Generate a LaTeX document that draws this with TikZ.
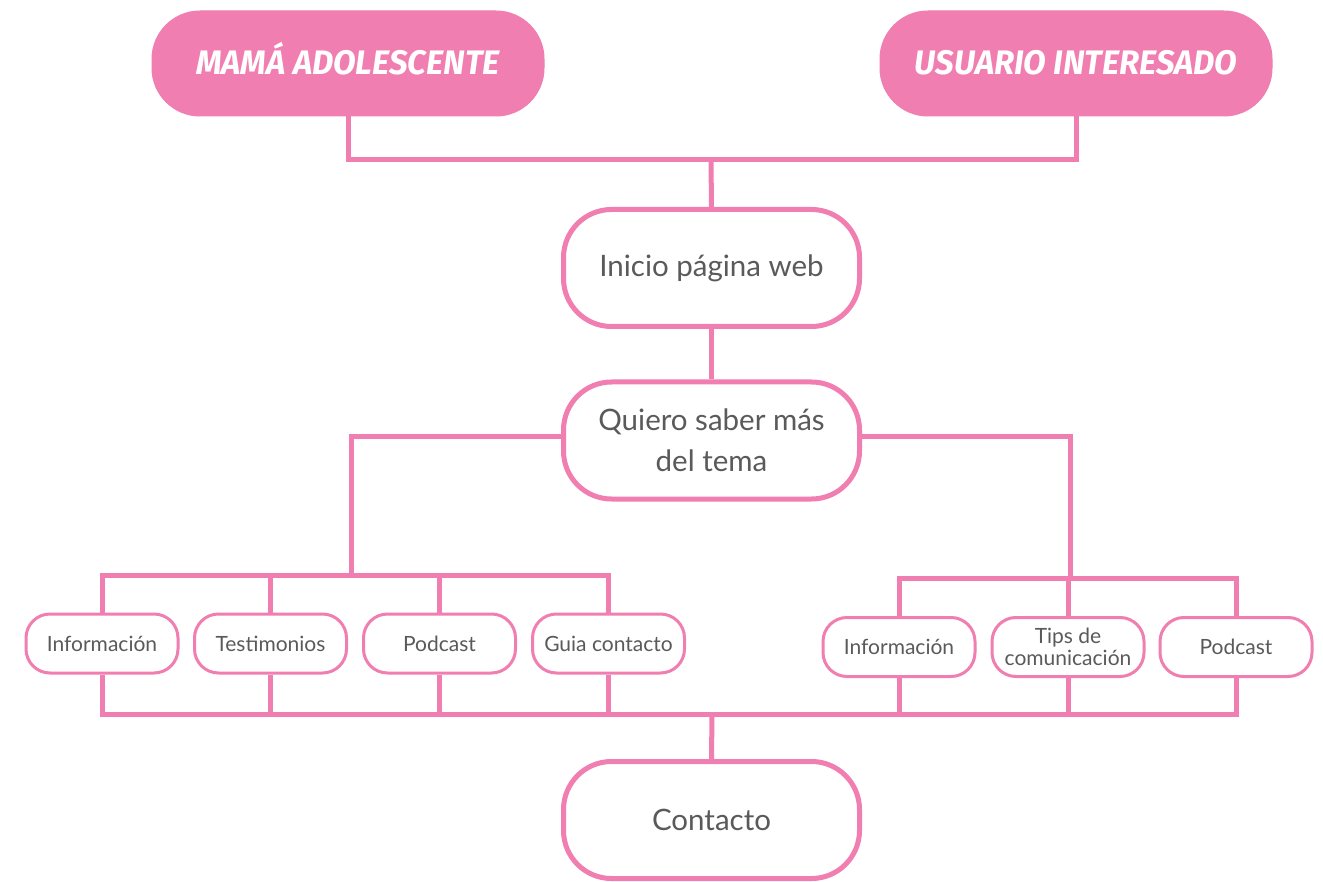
\documentclass[tikz,border=0pt]{standalone}
\usepackage{fontspec}
\setmainfont{Lato}
\newfontfamily\titlefont{Fira Sans}
\usetikzlibrary{calc}
\definecolor{pk}{RGB}{241,126,176}
\definecolor{tx}{RGB}{90,90,90}
\tikzset{
  conn/.style={draw=pk, line width=5pt},
  head/.style={fill=pk, draw=pk, line width=1pt, rounded corners=48pt, minimum width=392pt, minimum height=105pt,
    text=white, font=\titlefont\bfseries\itshape\fontsize{34}{34}\selectfont, inner sep=0pt,
    text height=23pt, text depth=0pt},
  big/.style={draw=pk, fill=white, line width=5pt, rounded corners=48pt, minimum width=296pt, minimum height=117pt,
    text=tx, font=\fontsize{29.5}{41}\selectfont, align=center, inner sep=0pt},
  small/.style={draw=pk, fill=white, line width=3pt, rounded corners=24pt, minimum width=152pt, minimum height=59pt,
    text=tx, font=\fontsize{21}{22}\selectfont, align=center, inner sep=0pt},
}
\begin{document}
\begin{tikzpicture}[x=1pt, y=-1pt]
\useasboundingbox (0,0) rectangle (1323,882);
\node[head] (ma) at (348,63.5) {\scalebox{0.97}[1]{MAMÁ ADOLESCENTE}};
\node[head] (ui) at (1076,63.5) {\scalebox{0.97}[1]{USUARIO INTERESADO}};
\coordinate (j1) at (711,160);
\coordinate (jl) at (351,575);
\coordinate (jr) at (1070,578);
\coordinate (bb) at (712,714);
\draw[conn] (ma.south) |- (j1) -| (ui.south);
\node[big] (ini) at (711.5,268) {Inicio página web};
\node[big] (qui) at (711.5,440.5) {Quiero saber más\\del tema};
\node[big] (con) at (711.5,820) {Contacto};
\node[small] (i1) at (102,643.5) {Información};
\node[small] (t1) at (270.5,643.5) {Testimonios};
\node[small] (p1) at (439.5,643.5) {Podcast};
\node[small] (g1) at (608.5,643.5) {Guia contacto};
\node[small] (i2) at (899,647) {Información};
\node[small] (t2) at (1068,647) {Tips de\\comunicación};
\node[small] (p2) at (1236,647) {Podcast};
\draw[conn] (j1) -- (ini.north);
\draw[conn] (ini.south) -- (qui.north);
\draw[conn] ([yshift=4pt]qui.west) -| (jl);
\draw[conn] ([yshift=4pt]qui.east) -| (jr);
\draw[conn] (i1.north) -- (i1.north |- jl) -- (g1.north |- jl) -- (g1.north);
\draw[conn] (t1.north) -- (t1.north |- jl);
\draw[conn] (p1.north) -- (p1.north |- jl);
\draw[conn] (i2.north) -- (i2.north |- jr) -- (p2.north |- jr) -- (p2.north);
\draw[conn] (t2.north) -- (t2.north |- jr);
\draw[conn] (i1.south) -- (i1.south |- bb) -- (p2.south |- bb) -- (p2.south);
\draw[conn] (t1.south) -- (t1.south |- bb);
\draw[conn] (p1.south) -- (p1.south |- bb);
\draw[conn] (g1.south) -- (g1.south |- bb);
\draw[conn] (i2.south) -- (i2.south |- bb);
\draw[conn] (t2.south) -- (t2.south |- bb);
\draw[conn] (bb) -- (con.north);
\end{tikzpicture}
\end{document}
